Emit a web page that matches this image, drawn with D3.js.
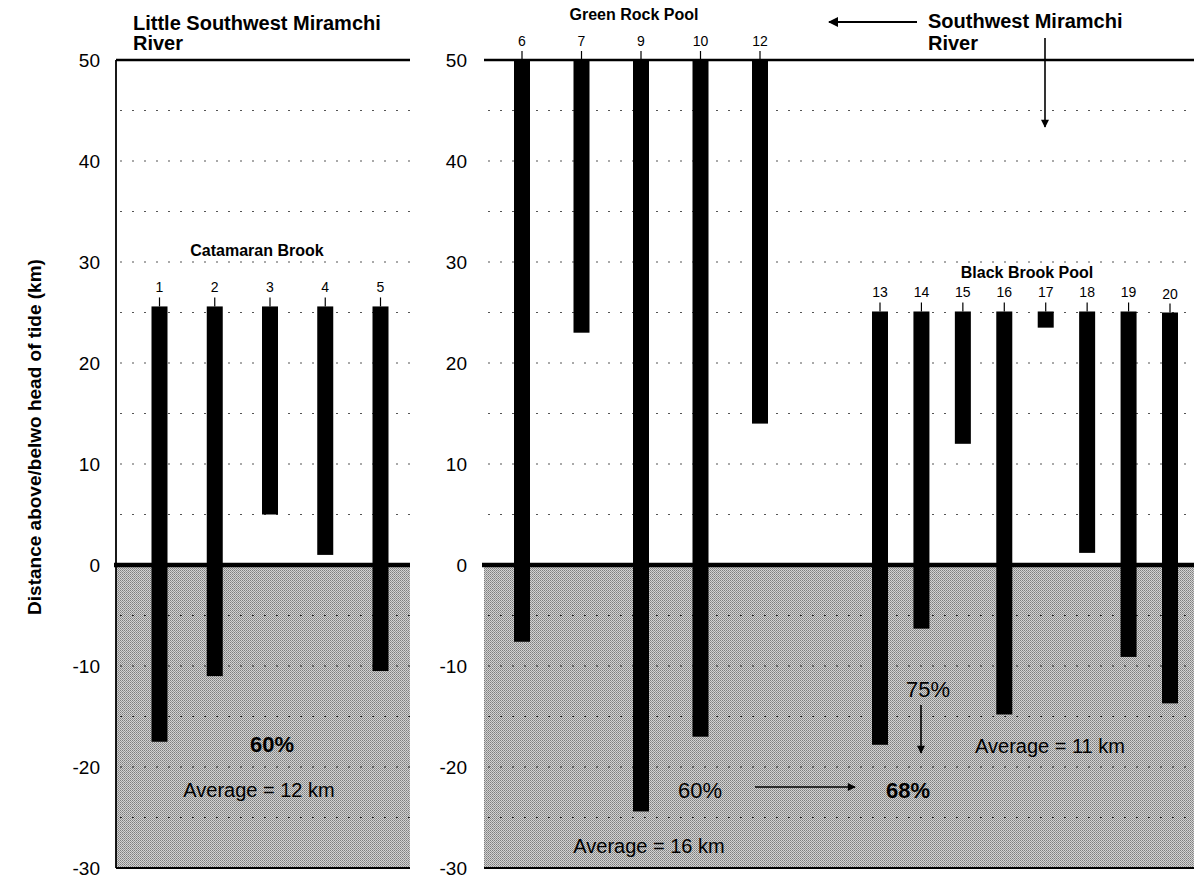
<!DOCTYPE html>
<html>
<head>
  <script src="https://d3js.org/d3.v7.min.js"></script>
  <style>
    body { margin: 0; background: #fff; }
    text { font-family: "Liberation Sans", Arial, sans-serif; fill: #000; }
  </style>
</head>
<body>
  <svg id="canvas" width="1194" height="878"></svg>
  <script>
    // site numbers and the upper / lower end of each bar (km from head of tide)
    const catamaranSites = ["1", "2", "3", "4", "5"];
    const catamaranTop = [25.6, 25.6, 25.6, 25.6, 25.6];
    const catamaranBottom = [-17.5, -11, 5, 1, -10.5];

    const greenRockSites = ["6", "7", "9", "10", "12"];
    const greenRockTop = [50, 50, 50, 50, 50];
    const greenRockBottom = [-7.6, 23, -24.4, -17, 14];

    const blackBrookSites = ["13", "14", "15", "16", "17", "18", "19", "20"];
    const blackBrookTop = [25.1, 25.1, 25.1, 25.1, 25.1, 25.1, 25.1, 25.0];
    const blackBrookBottom = [-17.8, -6.3, 12, -14.8, 23.5, 1.2, -9.1, -13.7];

    const yTicks = [50, 40, 30, 20, 10, 0, -10, -20, -30];
    const gridValues = d3.range(-25, 50, 5).filter(v => v !== 0);

    const svg = d3.select("#canvas");

    const y = d3.scaleLinear().domain([-30, 50]).range([868, 60]);

    // pattern for the tidal (below zero) zone
    const defs = svg.append("defs");
    const pat = defs.append("pattern")
      .attr("id", "stipple")
      .attr("width", 2).attr("height", 2)
      .attr("patternUnits", "userSpaceOnUse");
    pat.append("rect").attr("width", 2).attr("height", 2).attr("fill", "#d2d2d2");
    pat.append("rect").attr("width", 1).attr("height", 1).attr("fill", "#7e7e7e");
    pat.append("rect").attr("x", 1).attr("y", 1).attr("width", 1).attr("height", 1).attr("fill", "#969696");

    defs.append("marker")
      .attr("id", "head")
      .attr("viewBox", "0 0 10 10")
      .attr("refX", 9).attr("refY", 5)
      .attr("markerWidth", 6).attr("markerHeight", 5)
      .attr("markerUnits", "strokeWidth")
      .attr("orient", "auto")
      .append("path")
      .attr("d", "M0,0L10,5L0,10Z")
      .attr("fill", "#000");

    const panels = [
      { x0: 116, x1: 410, axisLine: true, labelX: 100 },
      { x0: 484, x1: 1194, axisLine: false, labelX: 467 }
    ];

    panels.forEach(p => {
      const g = svg.append("g");

      g.append("rect")
        .attr("x", p.x0).attr("y", y(0))
        .attr("width", p.x1 - p.x0).attr("height", y(-30) - y(0))
        .attr("fill", "url(#stipple)");

      g.selectAll(".grid")
        .data(gridValues)
        .enter()
        .append("line")
        .attr("x1", p.x0 + 4).attr("x2", p.x1)
        .attr("y1", d => y(d)).attr("y2", d => y(d))
        .attr("stroke", d => d < 0 ? "#222" : "#555")
        .attr("stroke-width", 1.2)
        .attr("stroke-dasharray", "2,10");

      // top and bottom lines
      g.append("line")
        .attr("x1", p.x0).attr("x2", p.x1)
        .attr("y1", y(50)).attr("y2", y(50))
        .attr("stroke", "#000").attr("stroke-width", 2.5);
      g.append("line")
        .attr("x1", p.x0).attr("x2", p.x1)
        .attr("y1", y(-30)).attr("y2", y(-30))
        .attr("stroke", "#000").attr("stroke-width", 1.8);

      if (p.axisLine) {
        g.append("line")
          .attr("x1", p.x0).attr("x2", p.x0)
          .attr("y1", y(50)).attr("y2", y(-30))
          .attr("stroke", "#000").attr("stroke-width", 1.8);
      }

      g.selectAll(".ylab")
        .data(yTicks)
        .enter()
        .append("text")
        .attr("x", p.labelX)
        .attr("y", d => y(d))
        .attr("dy", "0.36em")
        .attr("text-anchor", "end")
        .attr("font-size", 19)
        .text(d => d);
    });

    function drawGroup(sites, tops, bottoms, range) {
      const x = d3.scalePoint().domain(sites).range(range);
      const rows = sites.map((s, i) => ({ site: s, top: tops[i], bottom: bottoms[i] }));
      const bw = 16;
      const g = svg.append("g");

      g.selectAll("rect")
        .data(rows)
        .enter()
        .append("rect")
        .attr("x", d => x(d.site) - bw / 2)
        .attr("width", bw)
        .attr("y", d => y(d.top))
        .attr("height", d => y(d.bottom) - y(d.top))
        .attr("fill", "#000");

      g.selectAll(".tk")
        .data(rows)
        .enter()
        .append("line")
        .attr("x1", d => x(d.site)).attr("x2", d => x(d.site))
        .attr("y1", d => y(d.top) - 9).attr("y2", d => y(d.top))
        .attr("stroke", "#000").attr("stroke-width", 1.2);

      g.selectAll("text")
        .data(rows)
        .enter()
        .append("text")
        .attr("x", d => x(d.site))
        .attr("y", d => y(d.top) - 14)
        .attr("text-anchor", "middle")
        .attr("font-size", 14)
        .text(d => d.site);
      return x;
    }

    drawGroup(catamaranSites, catamaranTop, catamaranBottom, [159.5, 380.5]);
    drawGroup(greenRockSites, greenRockTop, greenRockBottom, [522, 760]);
    drawGroup(blackBrookSites, blackBrookTop, blackBrookBottom, [880, 1170]);

    // thick zero line drawn over the bars
    panels.forEach(p => {
      svg.append("line")
        .attr("x1", p.x0 - 2).attr("x2", p.x1)
        .attr("y1", y(0)).attr("y2", y(0))
        .attr("stroke", "#000").attr("stroke-width", 4.5);
    });

    // titles and labels
    function label(txt, x, yy, size, weight, anchor) {
      svg.append("text")
        .attr("x", x).attr("y", yy)
        .attr("font-size", size)
        .attr("font-weight", weight || "normal")
        .attr("text-anchor", anchor || "start")
        .text(txt);
    }

    label("Little Southwest Miramchi", 133, 30, 20, "bold");
    label("River", 133, 50, 20, "bold");
    label("Southwest Miramchi", 928, 28, 20, "bold");
    label("River", 928, 50, 20, "bold");
    label("Green Rock Pool", 634, 20, 16, "bold", "middle");
    label("Catamaran Brook", 257, 256, 16, "bold", "middle");
    label("Black Brook Pool", 1027, 278, 16, "bold", "middle");

    svg.append("text")
      .attr("transform", "translate(41,437) rotate(-90)")
      .attr("text-anchor", "middle")
      .attr("font-size", 19)
      .attr("font-weight", "bold")
      .text("Distance above/belwo head of tide (km)");

    label("60%", 272, 752, 22, "bold", "middle");
    label("Average = 12 km", 259, 797, 20, "normal", "middle");
    label("60%", 700, 798, 22, "normal", "middle");
    label("68%", 908, 798, 22, "bold", "middle");
    label("75%", 928, 697, 22, "normal", "middle");
    label("Average = 11 km", 1050, 753, 20, "normal", "middle");
    label("Average = 16 km", 649, 853, 20, "normal", "middle");

    function arrow(x1, y1, x2, y2, w) {
      svg.append("line")
        .attr("x1", x1).attr("y1", y1).attr("x2", x2).attr("y2", y2)
        .attr("stroke", "#000").attr("stroke-width", w)
        .attr("marker-end", "url(#head)");
    }

    arrow(917, 22, 829, 22, 2);
    arrow(1045, 38, 1045, 127, 1.6);
    arrow(755, 787, 855, 787, 1.6);
    arrow(921, 705, 921, 753, 1.6);
  </script>
</body>
</html>
